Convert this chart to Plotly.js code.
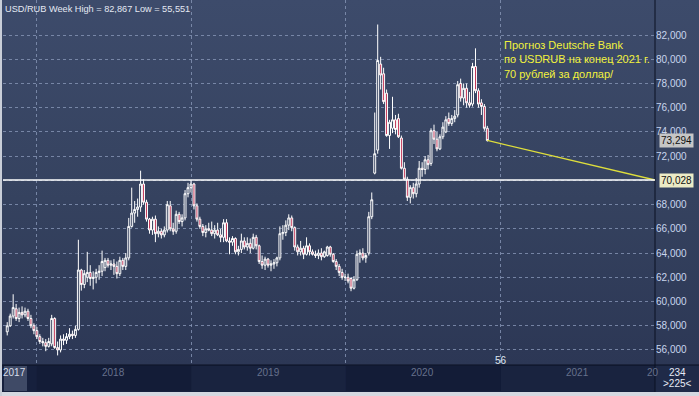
<!DOCTYPE html>
<html>
<head>
<meta charset="utf-8">
<script src="https://cdn.plot.ly/plotly-3.0.1.min.js"></script>
<style>
  html, body { margin: 0; padding: 0; background: #d4d8e0; }
  #chart {
    width: 699px; height: 396px;
    background: linear-gradient(to bottom, #3d4b6b 0px, #35425f 200px, #2c3755 365px, #2c3755 396px);
  }
</style>
</head>
<body>
<div id="chart"></div>
<script>
// ---- data: USD/RUB weekly candles (first week starting 2017-10-23) ----
const firstWeek = '2017-10-23';
const opens = [57.5,58.0,58.8,59.4,58.6,59.1,58.9,59.2,58.6,58.0,57.6,57.1,56.7,56.6,56.3,56.5,58.6,56.2,56.0,56.9,
  56.8,57.1,57.3,57.2,57.7,62.6,61.4,62.0,62.4,61.9,62.0,62.4,62.5,62.8,63.4,63.0,63.1,62.9,62.3,63.4,
  62.9,63.6,66.2,67.3,67.6,67.8,69.7,68.2,66.8,65.9,66.8,65.6,65.8,65.5,65.9,67.9,66.0,65.8,67.2,66.6,
  66.9,68.9,69.4,69.7,67.9,66.8,66.2,65.7,66.0,65.9,65.6,65.9,65.5,65.3,66.5,65.0,64.9,65.2,64.1,64.3,
  65.0,64.5,64.8,64.4,65.3,64.6,63.3,63.0,63.5,63.0,63.1,63.2,63.6,65.6,65.7,66.3,66.9,66.1,64.5,64.1,
  64.4,63.9,64.6,64.1,63.9,63.8,64.0,63.7,63.8,64.5,63.9,63.3,62.9,62.4,62.0,62.0,61.9,61.1,61.8,63.9,
  64.0,63.6,64.0,67.0,70.6,72.5,79.6,78.8,77.2,73.7,74.3,75.0,75.1,73.5,71.0,70.1,68.6,69.4,68.9,69.7,
  71.0,70.9,71.7,71.4,74.1,73.4,72.6,73.6,74.0,75.1,74.7,75.1,75.4,78.0,76.8,77.6,76.4,76.3,79.4,77.4,
  76.4,76.1,74.3];
const highs = [58.3,59.0,60.6,59.8,59.5,59.6,59.5,59.4,58.9,58.2,57.9,57.3,57.0,56.9,57.0,58.9,58.7,56.7,57.2,57.3,
  57.4,57.8,57.6,58.0,65.1,62.7,62.6,64.1,63.0,62.5,62.7,63.0,64.2,63.6,63.6,63.4,63.5,63.3,63.7,63.6,
  64.0,66.9,69.4,68.3,68.5,70.8,70.1,68.4,66.9,67.0,67.1,66.2,66.0,66.2,68.3,68.3,66.5,67.5,67.4,67.2,
  69.2,69.8,70.0,69.8,68.1,67.0,66.4,66.3,66.5,66.6,66.3,66.5,66.0,66.8,66.8,65.3,65.4,65.3,64.6,65.6,
  65.3,65.3,65.2,65.6,65.5,64.7,63.8,63.7,63.6,63.4,63.5,63.7,66.2,66.3,66.7,67.2,67.1,66.2,64.7,65.0,
  64.6,65.3,64.8,64.3,64.2,64.3,64.4,64.2,64.6,64.6,64.0,63.5,63.1,62.7,62.3,62.3,62.0,62.1,64.2,64.3,
  64.4,64.0,67.4,69.0,75.6,82.867,80.2,79.3,77.5,75.0,76.9,75.4,75.5,73.7,71.5,70.3,69.6,69.8,70.2,71.6,
  71.5,72.0,72.1,74.3,74.6,74.0,73.8,74.8,75.3,75.6,75.4,75.8,78.2,78.4,78.0,78.0,77.3,79.7,80.9,77.6,
  76.7,76.3,74.5];
const lows = [57.2,57.9,58.6,58.4,58.3,58.6,58.7,58.4,57.8,57.3,56.9,56.5,56.3,55.9,56.2,56.3,56.1,55.551,55.8,56.4,
  56.5,56.9,56.9,57.0,57.6,60.9,61.1,61.6,61.3,61.0,61.5,61.8,62.1,62.5,62.8,62.6,62.2,61.9,62.1,62.6,
  62.6,63.4,66.1,66.5,67.0,67.4,68.0,66.6,65.6,65.5,64.9,65.3,65.2,65.3,65.7,65.8,65.5,65.6,66.4,66.2,
  66.7,68.6,69.0,67.6,66.6,66.0,65.4,65.3,65.8,65.4,65.2,65.4,64.9,64.9,64.9,63.9,64.6,63.9,63.8,64.0,
  64.3,64.2,64.0,64.3,64.3,63.1,62.7,62.6,62.8,62.5,62.7,62.9,63.4,65.1,65.4,65.9,65.8,64.2,63.8,63.8,
  63.5,63.8,63.8,63.8,63.6,63.5,63.4,63.6,63.7,63.7,63.2,62.6,62.1,61.8,61.7,61.5,60.85,61.0,61.7,63.2,
  63.4,63.2,63.8,66.8,70.5,72.2,77.5,76.3,73.6,72.6,73.9,73.8,73.5,70.9,70.0,68.3,68.1,68.5,68.6,69.4,
  70.3,70.5,70.9,71.2,73.0,72.4,72.5,73.4,73.9,74.5,74.5,74.8,75.2,76.5,76.2,76.0,76.0,76.1,77.2,76.0,
  75.4,74.1,73.2];
const closes = [58.0,58.8,59.5,58.6,59.1,58.9,59.2,58.6,58.0,57.6,57.1,56.7,56.6,56.3,56.7,58.6,56.2,56.0,56.9,56.8,
  57.1,57.3,57.2,57.7,62.6,61.4,62.3,62.4,61.9,62.0,62.4,62.5,63.3,63.4,63.0,63.1,62.9,62.3,63.4,62.9,
  63.6,66.2,67.3,67.6,67.8,69.7,68.2,66.8,65.9,66.8,65.6,65.8,65.5,65.9,68.0,66.0,65.8,67.2,66.6,66.9,
  68.9,69.4,69.7,67.9,66.8,66.2,65.7,66.0,65.9,65.6,65.9,65.5,65.3,66.5,65.0,64.9,65.2,64.1,64.3,65.0,
  64.5,64.8,64.4,65.3,64.6,63.3,63.0,63.5,63.0,63.1,63.2,63.6,65.6,65.7,66.3,66.9,66.1,64.5,64.1,64.4,
  63.9,64.6,64.1,63.9,63.8,64.0,63.7,64.1,64.5,63.9,63.3,62.9,62.4,62.0,62.0,61.7,61.1,61.8,63.9,64.0,
  63.6,63.8,67.0,68.4,72.2,79.9,78.7,76.5,73.7,74.8,75.0,74.2,73.6,71.0,70.1,68.6,69.4,68.9,69.7,71.0,
  70.9,71.7,71.3,74.1,73.4,72.6,73.6,74.4,75.0,74.7,75.1,75.3,77.9,76.8,77.6,76.4,76.2,79.4,77.4,76.3,
  76.1,74.3,73.294];

// Deutsche Bank forecast: last close -> 70 RUB at the end of 2021
const forecastDates = ['2020-11-30', '2021-12-31'];
const forecastValues = [73.294, 70.028];

// axis ticks (the 70,000 label sits under the 70,028 price box in the original)
const yTicks = [56,58,60,62,64,66,68,70,72,74,76,78,80,82];
const yTickText = ['56,000','58,000','60,000','62,000','64,000','66,000','68,000','','72,000','74,000','76,000','78,000','80,000','82,000'];
const yearStarts = ['2018-01-01','2019-01-01','2020-01-01','2021-01-01'];
const navYears = ['2017','2018','2019','2020','2021','20'];
const navYearPos = ['2017-11-08','2018-07-02','2019-07-02','2020-07-01','2021-07-01','2021-12-08'];
const forecastText = 'Прогноз Deutsche Bank<br>по USDRUB на конец 2021 г.<br>70 рублей за доллар/';

// ---- build ----
const dates = [];
{
  const d0 = new Date(firstWeek + 'T00:00:00Z');
  for (let i = 0; i < closes.length; i++) {
    const d = new Date(d0.getTime() + i * 7 * 86400000);
    dates.push(d.toISOString().slice(0, 10));
  }
}
const fmt = v => v.toFixed(3).replace('.', ',');
const hi = Math.max(...highs), lo = Math.min(...lows);
const lastClose = closes[closes.length - 1];
const target = forecastValues[forecastValues.length - 1];

const W = 699, H = 396, ML = 3, MR = 44, MT = 0, MB = 31;
const pw = W - ML - MR, ph = H - MT - MB;
const px = X => (X - ML) / pw;
const py = Y => (ph + MT - Y) / ph;

const gridColor = 'rgba(135,150,182,0.8)';
const font = 'Liberation Sans, Arial, sans-serif';

const traces = [
  {
    type: 'candlestick', x: dates, open: opens, high: highs, low: lows, close: closes,
    increasing: { line: { color: '#ffffff', width: 1 }, fillcolor: '#2e3a58' },
    decreasing: { line: { color: '#ffffff', width: 1 }, fillcolor: '#c02a4e' },
    whiskerwidth: 0, hoverinfo: 'skip', showlegend: false
  },
  {
    type: 'scatter', mode: 'lines', x: forecastDates, y: forecastValues,
    line: { color: '#dede3c', width: 1.3 }, hoverinfo: 'skip', showlegend: false
  }
];

const shapes = [
  // navigator strip
  { type: 'rect', xref: 'paper', yref: 'paper', x0: px(0), x1: px(655), y0: py(392), y1: py(365),
    fillcolor: '#16203d', line: { width: 0 }, layer: 'below' },
  { type: 'rect', xref: 'x', yref: 'paper', x0: yearStarts[0], x1: yearStarts[1], y0: py(391), y1: py(366),
    fillcolor: '#131c37', line: { width: 0 } },
  { type: 'rect', xref: 'x', yref: 'paper', x0: yearStarts[1], x1: yearStarts[2], y0: py(391), y1: py(366),
    fillcolor: '#19233f', line: { width: 0 } },
  { type: 'rect', xref: 'x', yref: 'paper', x0: yearStarts[2], x1: yearStarts[3], y0: py(391), y1: py(366),
    fillcolor: '#131c37', line: { width: 0 } },
  { type: 'rect', xref: 'x', yref: 'paper', x0: yearStarts[3], x1: '2021-12-31', y0: py(391), y1: py(366),
    fillcolor: '#19233f', line: { width: 0 } },
  { type: 'rect', xref: 'paper', yref: 'paper', x0: px(4), x1: px(27), y0: py(391), y1: py(366),
    fillcolor: '#3f4a66', line: { width: 0 } },
  // right bottom panel
  { type: 'rect', xref: 'paper', yref: 'paper', x0: px(655), x1: px(699), y0: py(392), y1: py(365),
    fillcolor: '#1f2a48', line: { width: 0 } },
  // bottom grey border
  { type: 'rect', xref: 'paper', yref: 'paper', x0: px(0), x1: px(699), y0: py(396), y1: py(392),
    fillcolor: '#d4d8e0', line: { width: 0 } },
  // left border
  { type: 'rect', xref: 'paper', yref: 'paper', x0: px(0), x1: px(2), y0: py(396), y1: py(0),
    fillcolor: '#c9ced8', line: { width: 0 } },
  // separators
  { type: 'line', xref: 'paper', yref: 'paper', x0: px(655), x1: px(655), y0: py(392), y1: py(0),
    line: { color: '#0b1122', width: 1 } },
  { type: 'line', xref: 'paper', yref: 'paper', x0: px(2), x1: px(699), y0: py(365), y1: py(365),
    line: { color: '#0b1122', width: 1 } },
  // white level line at the forecast value
  { type: 'line', xref: 'paper', yref: 'y', x0: 0, x1: 1, y0: target, y1: target,
    line: { color: '#ffffff', width: 1.5 } }
];

const annotations = [
  { xref: 'paper', yref: 'paper', x: px(3), y: py(2), xanchor: 'left', yanchor: 'top', showarrow: false,
    text: 'USD/RUB Week High = ' + fmt(hi) + ' Low = ' + fmt(lo),
    font: { family: font, size: 9.2, color: '#e4e9f3' } },
  { xref: 'paper', yref: 'paper', x: px(502), y: py(37), xanchor: 'left', yanchor: 'top', showarrow: false,
    align: 'left', text: forecastText, font: { family: font, size: 11, color: '#f2f23c' } },
  { xref: 'paper', yref: 'paper', x: px(501), y: py(360), xanchor: 'center', yanchor: 'middle', showarrow: false,
    text: '56', font: { family: font, size: 10, color: '#dfe6f2' } },
  { xref: 'paper', yref: 'y', x: px(659), y: lastClose, xanchor: 'left', yanchor: 'middle', showarrow: false,
    text: fmt(lastClose), bgcolor: '#c6c6c6', borderpad: 1, font: { family: font, size: 10, color: '#101010' } },
  { xref: 'paper', yref: 'y', x: px(659), y: target, xanchor: 'left', yanchor: 'middle', showarrow: false,
    text: fmt(target), bgcolor: '#ecebc6', borderpad: 1, font: { family: font, size: 10, color: '#101010' } },
  { xref: 'paper', yref: 'paper', x: px(677), y: py(372), xanchor: 'center', yanchor: 'middle', showarrow: false,
    text: '234', font: { family: font, size: 10, color: '#e6ebf5' } },
  { xref: 'paper', yref: 'paper', x: px(677), y: py(384), xanchor: 'center', yanchor: 'middle', showarrow: false,
    text: '&gt;225&lt;', font: { family: font, size: 10, color: '#e6ebf5' } }
];
navYears.forEach((t, i) => {
  annotations.push({ xref: 'x', yref: 'paper', x: navYearPos[i], y: py(373), xanchor: i === navYears.length - 1 ? 'left' : 'center',
    yanchor: 'middle', showarrow: false, text: t,
    font: { family: font, size: 10, color: i === 0 ? '#d8deea' : '#66718c' } });
});

const layout = {
  width: W, height: H,
  margin: { l: ML, r: MR, t: MT, b: MB, pad: 0 },
  paper_bgcolor: 'rgba(0,0,0,0)', plot_bgcolor: 'rgba(0,0,0,0)',
  separators: ', ',
  boxgap: 0.08,
  showlegend: false,
  xaxis: {
    type: 'date', range: ['2017-10-13', '2021-12-31'],
    tickvals: yearStarts, showticklabels: false, ticks: '',
    showgrid: true, gridcolor: gridColor, griddash: '3px,3px', gridwidth: 1,
    zeroline: false, showline: false, fixedrange: true,
    rangeslider: { visible: false }
  },
  yaxis: {
    side: 'right', range: [54.76, 84.89], tickvals: yTicks, ticktext: yTickText,
    ticks: '', showgrid: true, gridcolor: gridColor, griddash: '3px,3px', gridwidth: 1,
    zeroline: false, showline: false,
    tickfont: { family: font, size: 10, color: '#c9d6ee' }, fixedrange: true
  },
  shapes: shapes,
  annotations: annotations
};

Plotly.newPlot('chart', traces, layout, { staticPlot: true, displayModeBar: false });
</script>
</body>
</html>
